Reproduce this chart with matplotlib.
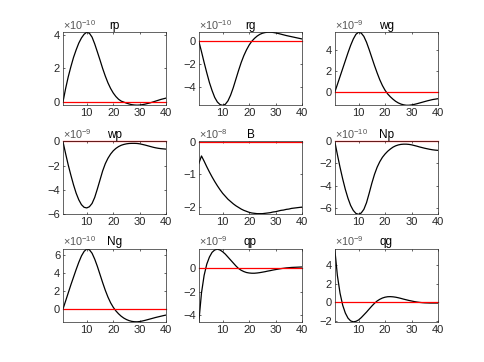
import matplotlib
matplotlib.use('Agg')
import matplotlib.pyplot as plt
import numpy as np

plt.rcParams['font.family'] = ['Liberation Sans', 'DejaVu Sans']
plt.rcParams['mathtext.fontset'] = 'custom'
plt.rcParams['mathtext.rm'] = 'Liberation Sans'
plt.rcParams['mathtext.it'] = 'Liberation Sans'

# impulse responses, periods 1..40 (values in units of the exponent shown)
periods = np.arange(1, 41)

rp = [0, 0.8, 1.5, 2.1, 2.65, 3.1, 3.5, 3.8, 4.02, 4.14,
      4.08, 3.85, 3.45, 2.98, 2.5, 2.0, 1.55, 1.15, 0.82, 0.55,
      0.34, 0.18, 0.07, 0.01, -0.05, -0.1, -0.14, -0.16, -0.17, -0.16,
      -0.14, -0.11, -0.07, -0.03, 0.02, 0.07, 0.12, 0.17, 0.21, 0.25]
rg = [0, -0.9, -1.85, -2.75, -3.6, -4.3, -4.9, -5.3, -5.52, -5.59,
      -5.5, -5.2, -4.7, -4.05, -3.3, -2.55, -1.85, -1.25, -0.75, -0.33,
      0.0, 0.25, 0.45, 0.6, 0.7, 0.76, 0.79, 0.79, 0.77, 0.73,
      0.68, 0.62, 0.56, 0.5, 0.45, 0.4, 0.35, 0.3, 0.25, 0.2]
wg = [0, 0.75, 1.5, 2.25, 3.0, 3.75, 4.45, 5.05, 5.5, 5.7,
      5.62, 5.3, 4.75, 4.05, 3.3, 2.55, 1.85, 1.2, 0.65, 0.2,
      -0.15, -0.42, -0.65, -0.85, -1.0, -1.11, -1.18, -1.22, -1.22, -1.19,
      -1.14, -1.08, -1.01, -0.94, -0.87, -0.8, -0.74, -0.68, -0.64, -0.6]
wp = [0, -1.0, -1.95, -2.8, -3.6, -4.3, -4.85, -5.25, -5.47, -5.52,
      -5.42, -5.15, -4.65, -3.95, -3.2, -2.45, -1.85, -1.4, -1.05, -0.78,
      -0.58, -0.43, -0.32, -0.25, -0.2, -0.17, -0.16, -0.16, -0.17, -0.2,
      -0.25, -0.3, -0.36, -0.42, -0.48, -0.53, -0.57, -0.6, -0.62, -0.64]
B = [-0.67, -0.44, -0.6, -0.77, -0.93, -1.08, -1.22, -1.35, -1.47, -1.58,
     -1.67, -1.76, -1.83, -1.9, -1.96, -2.01, -2.06, -2.1, -2.13, -2.16,
     -2.18, -2.19, -2.2, -2.2, -2.2, -2.19, -2.18, -2.17, -2.15, -2.14,
     -2.12, -2.1, -2.09, -2.07, -2.06, -2.04, -2.03, -2.02, -2.01, -2.0]
Np = [0, -1.2, -2.35, -3.4, -4.35, -5.15, -5.8, -6.25, -6.52, -6.6,
      -6.48, -6.15, -5.55, -4.7, -3.8, -3.0, -2.35, -1.85, -1.45, -1.15,
      -0.9, -0.7, -0.53, -0.41, -0.33, -0.28, -0.26, -0.26, -0.28, -0.32,
      -0.38, -0.44, -0.51, -0.57, -0.63, -0.68, -0.73, -0.77, -0.8, -0.82]
Ng = [0, 0.9, 1.8, 2.7, 3.55, 4.4, 5.2, 5.9, 6.4, 6.67,
      6.58, 6.2, 5.55, 4.75, 3.85, 2.95, 2.1, 1.35, 0.72, 0.22,
      -0.18, -0.5, -0.77, -0.98, -1.14, -1.26, -1.34, -1.38, -1.39, -1.36,
      -1.3, -1.23, -1.15, -1.07, -0.99, -0.91, -0.84, -0.77, -0.7, -0.64]
qp = [-4.54, -2.1, -0.6, 0.35, 0.95, 1.35, 1.55, 1.62, 1.55, 1.4,
      1.2, 0.95, 0.7, 0.45, 0.2, -0.02, -0.17, -0.28, -0.36, -0.4,
      -0.42, -0.42, -0.4, -0.37, -0.33, -0.29, -0.24, -0.2, -0.15, -0.11,
      -0.07, -0.03, 0.0, 0.03, 0.05, 0.07, 0.08, 0.09, 0.1, 0.11]
qg = [5.8, 2.9, 1.0, -0.3, -1.15, -1.7, -2.0, -2.1, -2.05, -1.9,
      -1.65, -1.35, -1.05, -0.72, -0.4, -0.1, 0.15, 0.33, 0.47, 0.56,
      0.61, 0.62, 0.6, 0.56, 0.5, 0.43, 0.35, 0.28, 0.21, 0.15,
      0.09, 0.04, 0.0, -0.03, -0.05, -0.06, -0.07, -0.07, -0.07, -0.07]

names = ['rp', 'rg', 'wg', 'wp', 'B', 'Np', 'Ng', 'qp', 'qg']
series = [rp, rg, wg, wp, B, Np, Ng, qp, qg]
exponents = [-10, -10, -9, -9, -8, -10, -10, -9, -9]
ylims = [(-0.18, 4.14), (-5.59, 0.79), (-1.23, 5.7),
         (-6.05, 0.02), (-2.22, 0.01), (-6.6, 0.01),
         (-1.39, 6.7), (-4.54, 1.66), (-2.1, 5.8)]
yticks = [[0, 2, 4], [-4, -2, 0], [0, 2, 4],
          [-6, -4, -2, 0], [-2, -1, 0], [-6, -4, -2, 0],
          [0, 2, 4, 6], [-4, -2, 0], [-2, 0, 2, 4]]

fig = plt.figure(figsize=(4.84, 3.62), dpi=100)
lefts = [0.13, 0.4108, 0.6916]
bottoms = [0.709, 0.408, 0.111]
grey = '#262626'

for i, name in enumerate(names):
    r, c = divmod(i, 3)
    ax = fig.add_axes([lefts[c], bottoms[r], 0.2134, 0.202])
    ax.plot(periods, series[i], color='black', lw=0.9)
    ax.axhline(0, color='red', lw=0.9, clip_on=False)
    ax.set_xlim(1, 40)
    ax.set_ylim(*ylims[i])
    ax.set_xticks([10, 20, 30, 40])
    ax.set_yticks(yticks[i])
    ax.tick_params(direction='in', length=1.5, width=0.5, labelsize=8,
                   colors=grey, top=True, right=True, pad=2)
    for s in ax.spines.values():
        s.set_color(grey)
        s.set_linewidth(0.5)
    ax.set_title(name, fontsize=8.5, pad=2.5, color='black')
    ax.text(0, 1.005, r'$\times10^{%d}$' % exponents[i], transform=ax.transAxes,
            ha='left', va='bottom', fontsize=7.8, color='#555555')

fig.savefig('out.png', dpi=100)
